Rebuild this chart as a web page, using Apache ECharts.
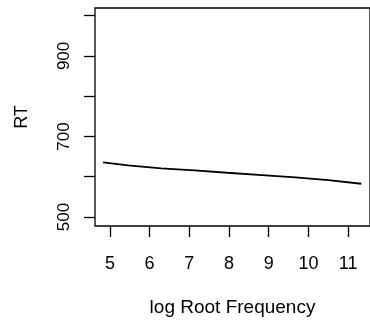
<!DOCTYPE html>
<html>
<head>
<meta charset="utf-8">
<script src="https://cdn.jsdelivr.net/npm/echarts@6/dist/echarts.min.js"></script>
<style>html,body{margin:0;padding:0;background:#fff}#c{width:370px;height:324px}</style>
</head>
<body>
<div id="c"></div>
<script>
var xValues = [4.83, 5.46, 6.29, 7.13, 7.95, 8.83, 9.67, 10.5, 11.33];
var rtValues = [635.7, 628.3, 620.8, 615.9, 609.9, 604.2, 598.5, 591.8, 582.6];
var xTicks = [5, 6, 7, 8, 9, 10, 11];
var yTicks = [500, 600, 700, 800, 900, 1000];
var yLabels = [500, 700, 900];

var FONT = 'Liberation Sans, Arial, Helvetica, sans-serif';
var chart = echarts.init(document.getElementById('c'));
chart.setOption({
  animation: false,
  backgroundColor: '#fff',
  grid: { left: 95, top: 8, right: -2, bottom: 98, show: true, borderColor: '#000', borderWidth: 1.3, backgroundColor: 'transparent' },
  xAxis: {
    type: 'value', min: 4.625, max: 11.55,
    name: 'log Root Frequency', nameLocation: 'middle', nameGap: 72,
    nameTextStyle: { color: '#000', fontSize: 19, fontFamily: FONT },
    axisLine: { show: false },
    splitLine: { show: false },
    axisTick: { show: true, length: 11, inside: false, customValues: xTicks, lineStyle: { color: '#000', width: 1.3 } },
    axisLabel: { show: true, customValues: xTicks, margin: 29, color: '#000', fontSize: 18, fontFamily: FONT }
  },
  yAxis: {
    type: 'value', min: 477.7, max: 1019,
    name: 'RT', nameLocation: 'middle', nameGap: 64, nameRotate: 90,
    nameTextStyle: { color: '#000', fontSize: 18, fontFamily: FONT },
    axisLine: { show: false },
    splitLine: { show: false },
    axisTick: { show: true, length: 11, customValues: yTicks, lineStyle: { color: '#000', width: 1.3 } },
    axisLabel: { show: true, customValues: yLabels, rotate: 90, margin: 22, color: '#000', fontSize: 17, fontFamily: FONT }
  },
  series: [{
    type: 'line',
    data: xValues.map(function (x, i) { return [x, rtValues[i]]; }),
    showSymbol: false, symbol: 'none', smooth: false,
    lineStyle: { color: '#000', width: 1.8 }
  }]
});
</script>
</body>
</html>
